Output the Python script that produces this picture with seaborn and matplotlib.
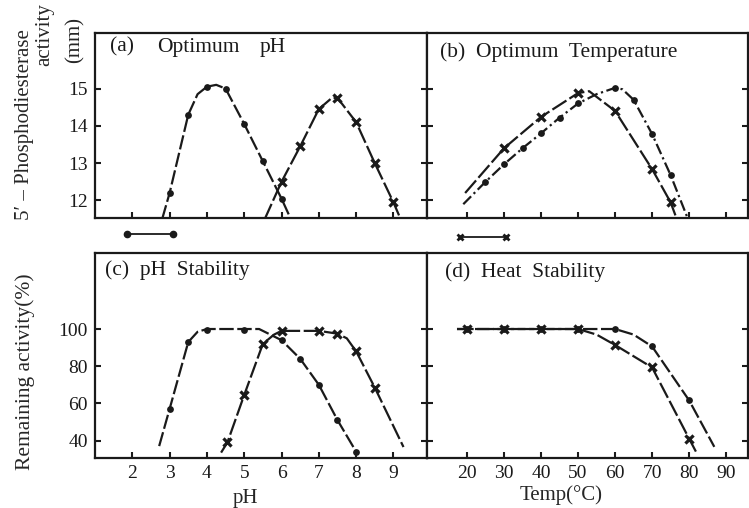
import matplotlib
matplotlib.use("Agg")
import matplotlib.pyplot as plt
from matplotlib.lines import Line2D
import seaborn as sns

# ---------------- data ----------------
# (a) Optimum pH
ph_a_circ = [3.0, 3.5, 4.0, 4.5, 5.0, 5.5, 6.0]
act_a_circ = [12.2, 14.3, 15.05, 15.0, 14.05, 13.05, 12.05]
ph_a_circ_line = [2.8, 3.0, 3.5, 3.75, 4.0, 4.25, 4.5, 5.0, 5.5, 6.0, 6.25]
act_a_circ_line = [11.5, 12.2, 14.3, 14.85, 15.05, 15.1, 15.0, 14.05, 13.05, 12.05, 11.5]

ph_a_cross = [6.0, 6.5, 7.0, 7.5, 8.0, 8.5, 9.0]
act_a_cross = [12.5, 13.45, 14.45, 14.75, 14.1, 13.0, 11.95]
ph_a_cross_line = [5.55, 6.0, 6.5, 7.0, 7.35, 7.5, 8.0, 8.5, 9.0, 9.15]
act_a_cross_line = [11.5, 12.5, 13.45, 14.45, 14.75, 14.75, 14.1, 13.0, 11.95, 11.6]

# (b) Optimum Temperature
t_b_circ = [25, 30, 35, 40, 45, 50, 60, 65, 70, 75]
act_b_circ = [12.5, 12.97, 13.4, 13.8, 14.22, 14.6, 15.02, 14.7, 13.78, 12.68]
t_b_circ_line = [19, 25, 30, 35, 40, 45, 50, 55, 60, 62, 65, 70, 75, 79.7]
act_b_circ_line = [11.9, 12.5, 12.97, 13.4, 13.8, 14.22, 14.6, 14.85, 15.02, 14.98, 14.7, 13.78, 12.68, 11.5]

t_b_cross = [30, 40, 50, 60, 70, 75]
act_b_cross = [13.4, 14.24, 14.88, 14.4, 12.84, 11.95]
t_b_cross_line = [19.5, 30, 40, 50, 53, 60, 70, 75, 76.3]
act_b_cross_line = [12.2, 13.4, 14.24, 14.88, 14.93, 14.4, 12.84, 11.95, 11.6]

# (c) pH Stability
ph_c_circ = [3.0, 3.5, 4.0, 5.0, 6.0, 6.5, 7.0, 7.5, 8.0]
rem_c_circ = [57, 93, 99.5, 99.5, 94, 84, 70, 51, 34]
ph_c_circ_line = [2.72, 3.0, 3.5, 3.75, 4.0, 5.0, 5.4, 6.0, 6.5, 7.0, 7.5, 8.0]
rem_c_circ_line = [37, 57, 93, 98.5, 100, 100, 100, 94, 84, 70, 51, 34]

ph_c_cross = [4.55, 5.0, 5.5, 6.0, 7.0, 7.5, 8.0, 8.5]
rem_c_cross = [39, 64.5, 92, 99, 99, 97.5, 88, 68.5]
ph_c_cross_line = [4.38, 4.55, 5.0, 5.5, 5.8, 6.0, 7.0, 7.5, 7.75, 8.0, 8.5, 9.27]
rem_c_cross_line = [33.5, 39, 64.5, 92, 97, 99, 99, 97.5, 95, 88, 68.5, 36.5]

# (d) Heat Stability
t_d_circ = [20, 30, 40, 50, 60, 70, 80]
rem_d_circ = [100, 100, 100, 100, 100, 90.6, 61.6]
t_d_circ_line = [17.3, 20, 30, 40, 50, 60, 65, 70, 80, 86.8]
rem_d_circ_line = [100, 100, 100, 100, 100, 100, 97, 90.6, 61.6, 36.6]

t_d_cross = [20, 30, 40, 50, 60, 70, 80]
rem_d_cross = [100, 100, 100, 100, 91.4, 79.3, 41]
t_d_cross_line = [17.3, 20, 30, 40, 50, 55, 60, 70, 80, 82]
rem_d_cross_line = [100, 100, 100, 100, 100, 97, 91.4, 79.3, 41, 33.4]

ph_ticks = [2, 3, 4, 5, 6, 7, 8, 9]
temp_ticks = [20, 30, 40, 50, 60, 70, 80, 90]
act_ticks = [12, 13, 14, 15]
rem_ticks = [40, 60, 80, 100]

# ---------------- style ----------------
sns.set_theme(style="ticks")
plt.rcParams["font.family"] = ["Liberation Serif", "DejaVu Serif"]
plt.rcParams["axes.linewidth"] = 1.6

fig = plt.figure(figsize=(7.49, 5.08), dpi=100)
W, H = 749, 508


def box(x0, y0, x1, y1):
    return [x0 / W, 1 - y1 / H, (x1 - x0) / W, (y1 - y0) / H]


ax_a = fig.add_axes(box(95, 33, 427, 218))
ax_b = fig.add_axes(box(427, 33, 748, 218))
ax_c = fig.add_axes(box(95, 253, 427, 458))
ax_d = fig.add_axes(box(427, 253, 748, 458))

DASH_C = (0, (6.5, 1.6))
DASH_CD = (0, (5, 1.6, 1, 1.6))
DASH_X = (0, (7.5, 1.6))
LW = 1.6


def draw(ax, xl, yl, xm, ym, kind, ls):
    sns.lineplot(x=xl, y=yl, ax=ax, color="k", linewidth=LW, linestyle=ls,
                 sort=False, estimator=None)
    if kind == "o":
        sns.scatterplot(x=xm, y=ym, ax=ax, color="k", marker="o", s=24,
                        edgecolor="k", linewidth=0, zorder=4)
    else:
        sns.scatterplot(x=xm, y=ym, ax=ax, color="k", marker="x", s=34,
                        linewidth=2.3, zorder=5)


draw(ax_a, ph_a_circ_line, act_a_circ_line, ph_a_circ, act_a_circ, "o", DASH_C)
draw(ax_a, ph_a_cross_line, act_a_cross_line, ph_a_cross, act_a_cross, "x", DASH_X)
draw(ax_b, t_b_circ_line, act_b_circ_line, t_b_circ, act_b_circ, "o", DASH_CD)
draw(ax_b, t_b_cross_line, act_b_cross_line, t_b_cross, act_b_cross, "x", DASH_X)
draw(ax_c, ph_c_circ_line, rem_c_circ_line, ph_c_circ, rem_c_circ, "o", DASH_C)
draw(ax_c, ph_c_cross_line, rem_c_cross_line, ph_c_cross, rem_c_cross, "x", DASH_X)
draw(ax_d, t_d_circ_line, rem_d_circ_line, t_d_circ, rem_d_circ, "o", DASH_C)
draw(ax_d, t_d_cross_line, rem_d_cross_line, t_d_cross, rem_d_cross, "x", DASH_X)

for ax in (ax_a, ax_c):
    ax.set_xlim(1.0, 9.9)
    ax.set_xticks(ph_ticks)
for ax in (ax_b, ax_d):
    ax.set_xlim(9.2, 95.9)
    ax.set_xticks(temp_ticks)
for ax in (ax_a, ax_b):
    ax.set_ylim(11.53, 16.49)
    ax.set_yticks(act_ticks)
for ax in (ax_c, ax_d):
    ax.set_ylim(30.6, 140.9)
    ax.set_yticks(rem_ticks)

for ax in (ax_a, ax_b, ax_c, ax_d):
    for s in ax.spines.values():
        s.set_visible(True)
        s.set_color("k")
        s.set_linewidth(1.6)
    ax.tick_params(direction="in", length=4, width=1.5, colors="k",
                   left=True, right=True, top=False, bottom=True,
                   labelsize=14, pad=5)
    ax.set_xlabel("")
    ax.set_ylabel("")

ax_a.tick_params(labelbottom=False)
ax_b.tick_params(labelbottom=False, labelleft=False)
ax_d.tick_params(labelleft=False)

# panel titles
tk = dict(fontsize=15.5, va="center", ha="left", color="k")
ax_a.text(0.045, 0.924, "(a)", transform=ax_a.transAxes, **tk)
ax_a.text(0.187, 0.924, "Optimum", transform=ax_a.transAxes, **tk)
ax_a.text(0.497, 0.924, "pH", transform=ax_a.transAxes, **tk)
ax_b.text(0.04, 0.897, "(b)  Optimum  Temperature", transform=ax_b.transAxes, **tk)
ax_c.text(0.03, 0.917, "(c)  pH  Stability", transform=ax_c.transAxes, **tk)
ax_d.text(0.056, 0.907, "(d)  Heat  Stability", transform=ax_d.transAxes, **tk)

# x labels
ax_c.set_xlabel("pH", fontsize=15)
ax_c.xaxis.set_label_coords(0.452, -0.15)
ax_d.set_xlabel("Temp(°C)", fontsize=15)
ax_d.xaxis.set_label_coords(0.417, -0.13)

# y labels
fig.text(25 / W, 1 - 220 / H, "5′ – Phosphodiesterase", rotation=90,
         ha="center", va="bottom", fontsize=15)
fig.text(45 / W, 1 - 3 / H, "activity", rotation=90,
         ha="center", va="top", fontsize=15)
fig.text(75 / W, 1 - 17 / H, "(mm)", rotation=90,
         ha="center", va="top", fontsize=15)
fig.text(25 / W, 1 - 372 / H, "Remaining activity(%)", rotation=90,
         ha="center", va="center", fontsize=15.5)

# key symbols under the top panels
h_circ = Line2D([0], [0], color="k", lw=1.3, marker="o", ms=4.5)
h_cross = Line2D([0], [0], color="k", lw=1.3, marker="x", ms=5, mew=2)
ax_a.legend([h_circ], [""], numpoints=2, loc="center left",
            bbox_to_anchor=(0.085, -0.095), frameon=False,
            borderpad=0, borderaxespad=0, handlelength=3.9,
            handletextpad=0, fontsize=10)
ax_b.legend([h_cross], [""], numpoints=2, loc="center left",
            bbox_to_anchor=(0.09, -0.11), frameon=False,
            borderpad=0, borderaxespad=0, handlelength=3.9,
            handletextpad=0, fontsize=10)

fig.savefig("out.png", dpi=100)
